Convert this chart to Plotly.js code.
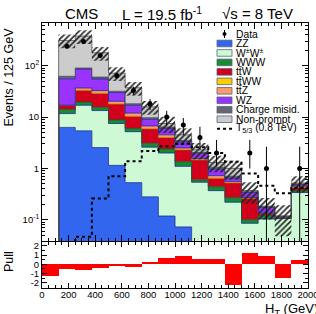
<!DOCTYPE html>
<html><head><meta charset="utf-8">
<script src="https://cdn.plot.ly/plotly-3.0.1.min.js"></script>
<style>html,body{margin:0;padding:0;background:#fff}#chart{width:316px;height:314px}</style>
</head><body><div id="chart"></div>
<script>
// H_T bin edges (GeV)
const htEdges = [0,125,250,375,500,625,750,875,1000,1125,1250,1375,1500,1625,1750,1875,2000];
// background components (events / bin), stacked bottom to top
const zz          = [0, 6.3, 5.4, 2.55, 1.15, 0.53, 0.28, 0.118, 0.072, 0, 0, 0, 0, 0, 0, 0];
const wpmwpm      = [0, 5.4, 11.6, 10.85, 6.35, 4.67, 2.32, 1.88, 1.03, 0.54, 0.37, 0.22, 0.085, 0.103, 0.105, 0.34];
const www         = [0, 2.4, 2.6, 2.1, 1.3, 0.8, 0.5, 0.4, 0.25, 0.06, 0.07, 0.05, 0.015, 0.017, 0.002, 0.03];
const ttw         = [0, 2.8, 13.6, 13.4, 9.1, 4.3, 2.8, 1.6, 0.95, 0.86, 0.2, 0.25, 0.16, 0.01, 0.002, 0.06];
const ttww        = [0, 0.05, 0.1, 0.1, 0.08, 0.05, 0.03, 0.02, 0.01, 0.01, 0.005, 0.005, 0.002, 0.001, 0.001, 0.002];
const ttz         = [0, 0.1, 3.5, 3.7, 2.3, 1.6, 0.8, 0.5, 0.2, 0.09, 0.08, 0.03, 0.01, 0.003, 0.002, 0.02];
const wz          = [0, 38.5, 49, 22.3, 9.7, 5.0, 2.3, 1.5, 0.8, 0.42, 0.24, 0.09, 0.07, 0.04, 0.002, 0.03];
const chargeMisid = [0, 6.5, 4, 5, 1.8, 1.2, 0.7, 0.4, 0.2, 0.08, 0.09, 0.06, 0.01, 0.005, 0.002, 0.02];
const nonPrompt   = [0, 248, 286, 118, 40, 19, 6.1, 1.1, 1.0, 0.25, 0.25, 0.3, 0.02, 0.005, 0.003, 0.02];
// relative total background uncertainty (hatched band)
const bkgRelUnc   = [0.3, 0.3, 0.3, 0.3, 0.3, 0.3, 0.3, 0.35, 0.35, 0.35, 0.35, 0.4, 0.45, 0.45, 0.6, 0.35];
// signal T5/3 (0.8 TeV)
const t53         = [0, 0, 0.047, 0.26, 0.71, 1.38, 2.19, 2.7, 3.0, 2.6, 2.0, 1.36, 0.8, 0.46, 0.33, 0.42];
// data
const dataCounts  = [null, 240, 295, 158, 64, 33, 18, 10, 7, 4, 2, null, 2, 1, null, 1];
const dataErrUp   = [0, 16, 17, 13, 8, 6, 4.3, 3.2, 2.6, 2.5, 1.6, 0, 1.6, 1.65, 0, 1.65];
const dataErrDown = [0, 16, 17, 13, 8, 6, 4.3, 3.2, 2.5, 1.7, 0.9, 0, 1.0, 0.99, 0, 0.99];
// pull
const pull        = [-1.3, -0.55, -0.6, -0.35, -0.2, -0.25, 0.25, 0.65, 0.9, 0.55, 0.55, -2.2, 1.2, 0.85, -1.45, 0.5];

const legendNames = ['Data','ZZ','W<sup>±</sup>W<sup>±</sup>','WWW','tt\u0304W','tt\u0304WW','tt\u0304Z','WZ','Charge misid.','Non-prompt','T<sub>5/3</sub> (0.8 TeV)'];

const comps = [
  {vals: zz,          fill:'#3366ee', line:'#1a2a90'},
  {vals: wpmwpm,      fill:'#cdfad5', line:'#1a2a90'},
  {vals: www,         fill:'#178a35', line:'#0c5a20'},
  {vals: ttw,         fill:'#d2001c', line:'#a00014'},
  {vals: ttww,        fill:'#ffcc00', line:'#c09000'},
  {vals: ttz,         fill:'#ff9a6a', line:'#1a2a90'},
  {vals: wz,          fill:'#9933ff', line:'#1a2a90'},
  {vals: chargeMisid, fill:'#666677', line:'#44444f'},
  {vals: nonPrompt,   fill:'#cccccc', line:'#555555'}
];

const FLOOR = 1e-3;
const nb = htEdges.length - 1;
const centers = htEdges.slice(0, nb).map((e,i)=> (e + htEdges[i+1]) / 2);
const widths = htEdges.slice(0, nb).map((e,i)=> htEdges[i+1] - e);
const stepY = arr => arr.concat([arr[arr.length-1]]);

const traces = [];
let cum = new Array(nb).fill(FLOOR);
traces.push({x: htEdges, y: stepY(cum), mode:'lines', line:{width:0, shape:'hv'}, hoverinfo:'skip'});
comps.forEach(c => {
  cum = cum.map((v,i)=> v + c.vals[i]);
  traces.push({x: htEdges, y: stepY(cum), mode:'lines', line:{shape:'hv', color:c.line, width:0.8},
               fill:'tonexty', fillcolor:c.fill, hoverinfo:'skip'});
});
const total = cum.slice();
traces.push({x: htEdges, y: stepY(total.map((v,i)=> Math.max(v*(1-bkgRelUnc[i]), FLOOR))), mode:'lines',
             line:{width:0, shape:'hv'}, hoverinfo:'skip'});
traces.push({x: htEdges, y: stepY(total.map((v,i)=> v*(1+bkgRelUnc[i]))), mode:'lines',
             line:{width:0, shape:'hv'}, fill:'tonexty', fillcolor:'rgba(0,0,0,0)',
             fillpattern:{shape:'/', fgcolor:'#222222', bgcolor:'rgba(0,0,0,0)', size:4, solidity:0.4}, hoverinfo:'skip'});
traces.push({x: htEdges, y: stepY(t53.map(v=> Math.max(v, FLOOR))), mode:'lines',
             line:{shape:'hv', color:'#000', width:2, dash:'dot'}, hoverinfo:'skip'});
traces.push({x: centers, y: dataCounts, mode:'markers', marker:{color:'#000', size:5},
             error_y:{type:'data', symmetric:false, array:dataErrUp, arrayminus:dataErrDown, color:'#000', thickness:1, width:0}});
traces.push({x: centers, y: pull, type:'bar', width: widths, marker:{color:'#ff0000', line:{width:0}},
             xaxis:'x2', yaxis:'y2'});

// layout geometry (pixels -> paper)
const L = 42, R = 8, T = 23, B = 26, W = 316, H = 314;
const pw = W - L - R, ph = H - T - B;
const px = X => (X - L) / pw;
const py = Y => (H - B - Y) / ph;

const FONT = 'Liberation Sans, Arial, Helvetica, sans-serif';
const shapes = [];
const annotations = [];
// legend
const legX0 = 217, legX1 = 232, legY0 = 34, legDY = 9.47;
legendNames.forEach((nm, i) => {
  const y = legY0 + i * legDY;
  annotations.push({xref:'paper', yref:'paper', x: px(234), y: py(y), xanchor:'left', yanchor:'middle',
    text: nm, showarrow:false, font:{size:10.3, family:FONT, color:'#000'}});
  if (i === 0) {
    shapes.push({type:'line', xref:'paper', yref:'paper', x0:px(224.5), x1:px(224.5), y0:py(y-4), y1:py(y+4), line:{color:'#000', width:1}});
    shapes.push({type:'circle', xref:'paper', yref:'paper', x0:px(222.5), x1:px(226.5), y0:py(y-2), y1:py(y+2), fillcolor:'#000', line:{color:'#000', width:0}});
  } else if (i === legendNames.length - 1) {
    shapes.push({type:'line', xref:'paper', yref:'paper', x0:px(legX0), x1:px(legX1), y0:py(y), y1:py(y), line:{color:'#000', width:2, dash:'dot'}});
  } else {
    const c = comps[i-1];
    shapes.push({type:'rect', xref:'paper', yref:'paper', x0:px(legX0), x1:px(legX1), y0:py(y-3.3), y1:py(y+3.3),
      fillcolor:c.fill, line:{color:'#556677', width:0.8}});
  }
});
// header
annotations.push({xref:'paper', yref:'paper', x:px(81), y:py(13), xanchor:'center', yanchor:'middle', showarrow:false,
  text:'CMS', font:{size:15, family:FONT, color:'#000'}});
annotations.push({xref:'paper', yref:'paper', x:px(162), y:py(13), xanchor:'center', yanchor:'middle', showarrow:false,
  text:'L = 19.5 fb<sup>-1</sup>', font:{size:15, family:FONT, color:'#000'}});
annotations.push({xref:'paper', yref:'paper', x:px(257), y:py(13), xanchor:'center', yanchor:'middle', showarrow:false,
  text:'√s = 8 TeV', font:{size:15, family:FONT, color:'#000'}});
// axis titles
annotations.push({xref:'paper', yref:'paper', x:px(8), y:py(26), xanchor:'center', yanchor:'top', textangle:-90, showarrow:false,
  text:'Events / 125 GeV', font:{size:12.5, family:FONT, color:'#000'}});
annotations.push({xref:'paper', yref:'paper', x:px(9), y:py(262), xanchor:'center', yanchor:'middle', textangle:-90, showarrow:false,
  text:'Pull', font:{size:12.5, family:FONT, color:'#000'}});
annotations.push({xref:'paper', yref:'paper', x:px(320), y:py(309.5), xanchor:'right', yanchor:'middle', showarrow:false,
  text:'H<sub>T</sub> (GeV)', font:{size:13, family:FONT, color:'#000'}});

const axCommon = {showline:true, linecolor:'#000', linewidth:1, mirror:'ticks', showgrid:false, zeroline:false,
  ticks:'inside', tickcolor:'#000', ticklen:6, tickfont:{size:9.5, family:FONT, color:'#000'}};

const layout = {
  width: W, height: H, margin:{l:L, r:R, t:T, b:B, pad:0},
  paper_bgcolor:'#fff', plot_bgcolor:'#fff', showlegend:false,
  font:{family:FONT, color:'#000'},
  xaxis: Object.assign({}, axCommon, {domain:[0,1], range:[0,2000], anchor:'y', showticklabels:false, dtick:200, tick0:0,
    minor:{ticks:'inside', ticklen:3, dtick:50, tick0:0, tickcolor:'#000'}}),
  yaxis: Object.assign({}, axCommon, {domain:[py(241),1], type:'log', range:[-1.41,2.83], anchor:'x',
    tickmode:'array', tickvals:[0.1,1,10,100], ticktext:['10<sup>-1</sup>','1','10','10<sup>2</sup>'],
    minor:{ticks:'inside', ticklen:3, tickcolor:'#000', tickmode:'array',
      tickvals:[0.05,0.06,0.07,0.08,0.09,0.2,0.3,0.4,0.5,0.6,0.7,0.8,0.9,2,3,4,5,6,7,8,9,20,30,40,50,60,70,80,90,200,300,400,500,600]}}),
  xaxis2: Object.assign({}, axCommon, {domain:[0,1], range:[0,2000], anchor:'y2', dtick:200, tick0:0, ticklen:5,
    ticklabeloverflow:'allow', ticklabelstandoff:-2,
    minor:{ticks:'inside', ticklen:3, dtick:50, tick0:0, tickcolor:'#000'}}),
  yaxis2: Object.assign({}, axCommon, {domain:[0,py(242)], range:[-2.55,2.4], anchor:'x2', ticklen:5,
    tickmode:'array', tickvals:[-2,-1,0,1,2], ticktext:['-2','-1','0','1','2'],
    minor:{ticks:'inside', ticklen:3, tickcolor:'#000', tickmode:'array', tickvals:[-1.5,-0.5,0.5,1.5]}}),
  bargap:0,
  shapes: shapes,
  annotations: annotations
};

Plotly.newPlot('chart', traces, layout, {staticPlot:true, displayModeBar:false});
</script></body></html>
